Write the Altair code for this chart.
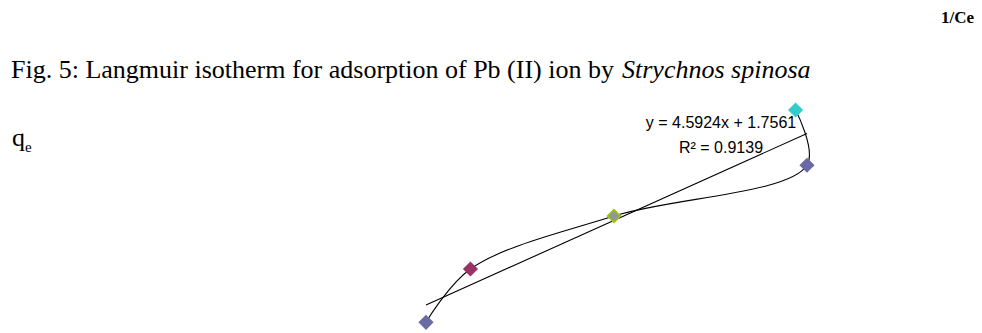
import altair as alt
import pandas as pd

# Data (1/Ce on x, qe on y), in plotting order of the smoothed series
x_vals = [0.100, 0.135, 0.248, 0.400, 0.391]
y_vals = [2.076, 2.505, 2.931, 3.339, 3.784]
order_vals = [1, 2, 3, 4, 5]
fill_colors = ["#6A6AA6", "#993366", "#969696", "#6A6AA6", "#33CCCC"]
stroke_colors = ["#6A6AA6", "#993366", "#99CC00", "#6A6AA6", "#33CCCC"]

title_plain = "Fig. 5: Langmuir isotherm for adsorption of Pb (II) ion by"
title_italic = "Strychnos spinosa"
x_label = "1/Ce"
y_label_main = "q"
y_label_sub = "e"
eq_label = "y = 4.5924x + 1.7561"
r2_label = "R² = 0.9139"

df = pd.DataFrame({
    "x": x_vals,
    "y": y_vals,
    "order": order_vals,
    "fill": fill_colors,
    "stroke": stroke_colors,
})

W, H = 966, 325
xs = alt.Scale(domain=[-0.22913, 0.53150], nice=False, zero=False)
ys = alt.Scale(domain=[1.9901, 4.6041], nice=False, zero=False)

base = alt.Chart(df)

curve = base.mark_line(interpolate="catmull-rom", color="black", strokeWidth=1.1).encode(
    x=alt.X("x:Q", scale=xs, axis=None),
    y=alt.Y("y:Q", scale=ys, axis=None),
    order=alt.Order("order:Q"),
)

trend = base.transform_regression("x", "y").mark_line(color="black", strokeWidth=1.1).encode(
    x=alt.X("x:Q", scale=xs, axis=None),
    y=alt.Y("y:Q", scale=ys, axis=None),
)

points = base.mark_point(shape="diamond", filled=True, size=170, opacity=1, strokeWidth=1.5).encode(
    x=alt.X("x:Q", scale=xs, axis=None),
    y=alt.Y("y:Q", scale=ys, axis=None),
    fill=alt.Fill("fill:N", scale=None),
    stroke=alt.Stroke("stroke:N", scale=None),
)

one = alt.Chart(pd.DataFrame({"a": [0]}))

def txt(text, x, y, size, font, align="left", weight="normal", style="normal"):
    return one.mark_text(
        text=text, align=align, baseline="alphabetic", fontSize=size, font=font,
        fontWeight=weight, fontStyle=style, color="black",
    ).encode(x=alt.value(x), y=alt.value(y))

serif = "Liberation Serif"
sans = "Liberation Sans"

texts = [
    txt(x_label, 966, 15, 17, serif, align="right", weight="bold"),
    txt(title_plain, 3, 70, 26, serif),
    txt(title_italic, 614, 70, 26, serif, style="italic"),
    txt(y_label_main, 4, 138, 26, serif),
    txt(y_label_sub, 17, 144, 15, serif),
    txt(eq_label, 713, 120, 16, sans, align="center"),
    txt(r2_label, 713, 145, 16, sans, align="center"),
]

chart = alt.layer(trend, curve, points, *texts).properties(
    width=W, height=H, padding=0, autosize="none",
).configure_view(stroke=None)

chart.save("out.html", embed_options={"renderer": "svg", "actions": False})
